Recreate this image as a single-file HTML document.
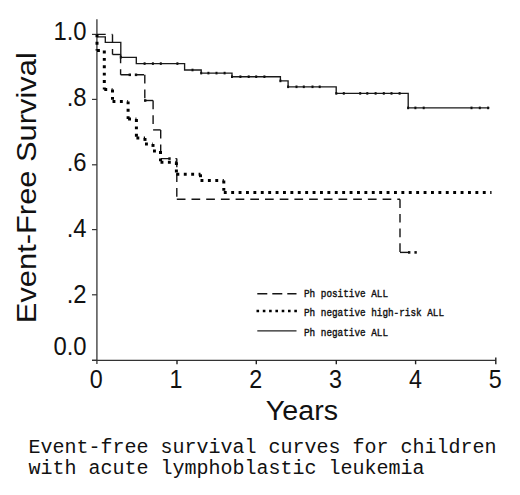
<!DOCTYPE html>
<html><head><meta charset="utf-8"><style>
html,body{margin:0;padding:0;background:#fff;width:520px;height:495px;overflow:hidden}
svg{position:absolute;left:0;top:0}
.ax{font-family:"Liberation Sans",sans-serif;fill:#111}
.serif{font-family:"Liberation Serif",serif;fill:#111}
.mono{font-family:"Liberation Mono",monospace;fill:#111}
</style></head><body>
<svg width="520" height="495" viewBox="0 0 520 495">
<line x1="96.9" y1="19.2" x2="96.9" y2="364" stroke="#505050" stroke-width="1.5"/>
<line x1="92" y1="360.3" x2="495.8" y2="360.3" stroke="#333" stroke-width="1.3"/>
<line x1="92" y1="34.4" x2="96.9" y2="34.4" stroke="#333" stroke-width="1.2"/>
<line x1="92" y1="99.4" x2="96.9" y2="99.4" stroke="#333" stroke-width="1.2"/>
<line x1="92" y1="164.8" x2="96.9" y2="164.8" stroke="#333" stroke-width="1.2"/>
<line x1="92" y1="229.6" x2="96.9" y2="229.6" stroke="#333" stroke-width="1.2"/>
<line x1="92" y1="294.8" x2="96.9" y2="294.8" stroke="#333" stroke-width="1.2"/>
<line x1="92" y1="360.3" x2="96.9" y2="360.3" stroke="#333" stroke-width="1.2"/>
<line x1="177" y1="360" x2="177" y2="364.3" stroke="#222" stroke-width="1.4"/>
<line x1="256.3" y1="360" x2="256.3" y2="364.3" stroke="#222" stroke-width="1.4"/>
<line x1="336.3" y1="360" x2="336.3" y2="364.3" stroke="#222" stroke-width="1.4"/>
<line x1="415.6" y1="360" x2="415.6" y2="364.3" stroke="#222" stroke-width="1.4"/>
<line x1="495.8" y1="357.4" x2="495.8" y2="364.3" stroke="#222" stroke-width="1.4"/>
<polyline fill="none" stroke="#1a1a1a" stroke-width="1.35" points="97,36.9 105.3,36.9 105.3,42.4 120.8,42.4 120.8,57.3 136.3,57.3 136.3,63.6 184.6,63.6 184.6,70 201.2,70 201.2,73.1 232,73.1 232,76.7 280.4,76.7 280.4,80.9 288.1,80.9 288.1,86.8 336.2,86.8 336.2,93.4 408.2,93.4 408.2,107.9 489.4,107.9"/>
<rect x="143.6" y="62.3" width="2" height="2.6" fill="#111"/>
<rect x="151.9" y="62.3" width="2" height="2.6" fill="#111"/>
<rect x="159.8" y="62.3" width="2" height="2.6" fill="#111"/>
<rect x="176.4" y="62.3" width="2" height="2.6" fill="#111"/>
<rect x="191.5" y="68.7" width="2" height="2.6" fill="#111"/>
<rect x="207.4" y="71.8" width="2" height="2.6" fill="#111"/>
<rect x="215.5" y="71.8" width="2" height="2.6" fill="#111"/>
<rect x="223.6" y="71.8" width="2" height="2.6" fill="#111"/>
<rect x="239.4" y="75.4" width="2" height="2.6" fill="#111"/>
<rect x="247.7" y="75.4" width="2" height="2.6" fill="#111"/>
<rect x="255.2" y="75.4" width="2" height="2.6" fill="#111"/>
<rect x="263.4" y="75.4" width="2" height="2.6" fill="#111"/>
<rect x="295.5" y="85.5" width="2" height="2.6" fill="#111"/>
<rect x="302.8" y="85.5" width="2" height="2.6" fill="#111"/>
<rect x="311.5" y="85.5" width="2" height="2.6" fill="#111"/>
<rect x="318.7" y="85.5" width="2" height="2.6" fill="#111"/>
<rect x="342.8" y="92.1" width="2" height="2.6" fill="#111"/>
<rect x="359.2" y="92.1" width="2" height="2.6" fill="#111"/>
<rect x="366.3" y="92.1" width="2" height="2.6" fill="#111"/>
<rect x="374.6" y="92.1" width="2" height="2.6" fill="#111"/>
<rect x="382.8" y="92.1" width="2" height="2.6" fill="#111"/>
<rect x="390.5" y="92.1" width="2" height="2.6" fill="#111"/>
<rect x="398.6" y="92.1" width="2" height="2.6" fill="#111"/>
<rect x="407.1" y="106.6" width="2" height="2.6" fill="#111"/>
<rect x="414.4" y="106.6" width="2" height="2.6" fill="#111"/>
<rect x="422.7" y="106.6" width="2" height="2.6" fill="#111"/>
<rect x="470.5" y="106.6" width="2" height="2.6" fill="#111"/>
<rect x="478.8" y="106.6" width="2" height="2.6" fill="#111"/>
<rect x="487.1" y="106.6" width="2" height="2.6" fill="#111"/>
<rect x="119.8" y="56" width="2" height="2.6" fill="#111"/>
<rect x="200.2" y="71.8" width="2" height="2.6" fill="#111"/>
<rect x="231" y="75.4" width="2" height="2.6" fill="#111"/>
<rect x="279.4" y="79.6" width="2" height="2.6" fill="#111"/>
<rect x="287.1" y="85.5" width="2" height="2.6" fill="#111"/>
<rect x="335.3" y="92.1" width="2" height="2.6" fill="#111"/>
<line x1="97" y1="34.4" x2="112.5" y2="34.4" stroke="#151515" stroke-width="1.4" stroke-dasharray="8.7 6"/>
<line x1="112.5" y1="34.4" x2="112.5" y2="54.5" stroke="#151515" stroke-width="1.4" stroke-dasharray="8.7 6"/>
<line x1="112.5" y1="54.5" x2="120.6" y2="54.5" stroke="#151515" stroke-width="1.4" stroke-dasharray="8.7 6"/>
<line x1="120.6" y1="54.5" x2="120.6" y2="74.8" stroke="#151515" stroke-width="1.4" stroke-dasharray="8.7 6"/>
<line x1="120.6" y1="74.8" x2="144.8" y2="74.8" stroke="#151515" stroke-width="1.4" stroke-dasharray="8.7 6"/>
<line x1="144.8" y1="74.8" x2="144.8" y2="100.5" stroke="#151515" stroke-width="1.4" stroke-dasharray="8.7 6"/>
<line x1="144.8" y1="100.5" x2="153.1" y2="100.5" stroke="#151515" stroke-width="1.4" stroke-dasharray="8.7 6"/>
<line x1="153.1" y1="100.5" x2="153.1" y2="129.9" stroke="#151515" stroke-width="1.4" stroke-dasharray="8.7 6"/>
<line x1="153.1" y1="129.9" x2="160.7" y2="129.9" stroke="#151515" stroke-width="1.4" stroke-dasharray="8.7 6"/>
<line x1="160.7" y1="129.9" x2="160.7" y2="158.6" stroke="#151515" stroke-width="1.4" stroke-dasharray="8.7 6"/>
<line x1="160.7" y1="158.6" x2="176.8" y2="158.6" stroke="#151515" stroke-width="1.4" stroke-dasharray="8.7 6"/>
<line x1="176.8" y1="158.6" x2="176.8" y2="199.2" stroke="#151515" stroke-width="1.4" stroke-dasharray="8.7 6"/>
<line x1="176.8" y1="199.2" x2="400" y2="199.2" stroke="#151515" stroke-width="1.4" stroke-dasharray="8.7 6"/>
<line x1="400" y1="199.2" x2="400" y2="252.4" stroke="#151515" stroke-width="1.4" stroke-dasharray="8.7 6"/>
<line x1="400" y1="252.4" x2="409.2" y2="252.4" stroke="#151515" stroke-width="1.4" stroke-dasharray="8.7 6"/>
<rect x="128.6" y="73.5" width="2.4" height="2.6" fill="#111"/>
<rect x="134.8" y="73.5" width="2.4" height="2.6" fill="#111"/>
<rect x="144" y="99.2" width="2.4" height="2.6" fill="#111"/>
<rect x="168.3" y="157.3" width="2.4" height="2.6" fill="#111"/>
<rect x="408" y="251.1" width="2.4" height="2.6" fill="#111"/>
<rect x="414.4" y="251.1" width="2.4" height="2.6" fill="#111"/>
<line x1="97" y1="34.4" x2="97" y2="50.5" stroke="#000" stroke-width="3" stroke-dasharray="2.9 4.5"/>
<line x1="97" y1="50.5" x2="104.3" y2="50.5" stroke="#000" stroke-width="3" stroke-dasharray="2.9 4.5"/>
<line x1="104.3" y1="50.5" x2="104.3" y2="89.5" stroke="#000" stroke-width="3" stroke-dasharray="2.9 4.5"/>
<line x1="104.3" y1="89.5" x2="112.5" y2="89.5" stroke="#000" stroke-width="3" stroke-dasharray="2.9 4.5"/>
<line x1="112.5" y1="89.5" x2="112.5" y2="101.4" stroke="#000" stroke-width="3" stroke-dasharray="2.9 4.5"/>
<line x1="112.5" y1="101.4" x2="128.1" y2="101.4" stroke="#000" stroke-width="3" stroke-dasharray="2.9 4.5"/>
<line x1="128.1" y1="101.4" x2="128.1" y2="119" stroke="#000" stroke-width="3" stroke-dasharray="2.9 4.5"/>
<line x1="128.1" y1="119" x2="136.4" y2="119" stroke="#000" stroke-width="3" stroke-dasharray="2.9 4.5"/>
<line x1="136.4" y1="119" x2="136.4" y2="138" stroke="#000" stroke-width="3" stroke-dasharray="2.9 4.5"/>
<line x1="136.4" y1="138" x2="145" y2="138" stroke="#000" stroke-width="3" stroke-dasharray="2.9 4.5"/>
<line x1="145" y1="138" x2="145" y2="144" stroke="#000" stroke-width="3" stroke-dasharray="2.9 4.5"/>
<line x1="145" y1="144" x2="153" y2="144" stroke="#000" stroke-width="3" stroke-dasharray="2.9 4.5"/>
<line x1="153" y1="144" x2="153" y2="151" stroke="#000" stroke-width="3" stroke-dasharray="2.9 4.5"/>
<line x1="153" y1="151" x2="160.5" y2="151" stroke="#000" stroke-width="3" stroke-dasharray="2.9 4.5"/>
<line x1="160.5" y1="151" x2="160.5" y2="162.2" stroke="#000" stroke-width="3" stroke-dasharray="2.9 4.5"/>
<line x1="160.5" y1="162.2" x2="176.4" y2="162.2" stroke="#000" stroke-width="3" stroke-dasharray="2.9 4.5"/>
<line x1="176.4" y1="162.2" x2="176.4" y2="174.3" stroke="#000" stroke-width="3" stroke-dasharray="2.9 4.5"/>
<line x1="176.4" y1="174.3" x2="200.5" y2="174.3" stroke="#000" stroke-width="3" stroke-dasharray="2.9 4.5"/>
<line x1="200.5" y1="174.3" x2="200.5" y2="180.5" stroke="#000" stroke-width="3" stroke-dasharray="2.9 4.5"/>
<line x1="200.5" y1="180.5" x2="223.8" y2="180.5" stroke="#000" stroke-width="3" stroke-dasharray="2.9 4.5"/>
<line x1="223.8" y1="180.5" x2="223.8" y2="192.6" stroke="#000" stroke-width="3" stroke-dasharray="2.9 4.5"/>
<line x1="223.8" y1="192.6" x2="491.5" y2="192.6" stroke="#000" stroke-width="3" stroke-dasharray="2.9 4.5"/>
<line x1="257.3" y1="293.7" x2="296.5" y2="293.7" stroke="#151515" stroke-width="1.4" stroke-dasharray="10 5"/>
<line x1="256.5" y1="311" x2="297" y2="311" stroke="#000" stroke-width="2.6" stroke-dasharray="2.6 3.7"/>
<line x1="257.3" y1="330.8" x2="296.5" y2="330.8" stroke="#222" stroke-width="1.3"/>
<g class="ax" font-size="26.5" text-anchor="end">
<text transform="translate(86.6,40.1) scale(0.9,1)">1.0</text>
<text transform="translate(86.6,105.6) scale(0.9,1)">.8</text>
<text transform="translate(86.6,170.6) scale(0.9,1)">.6</text>
<text transform="translate(86.6,237.3) scale(0.9,1)">.4</text>
<text transform="translate(86.6,302.5) scale(0.9,1)">.2</text>
<text transform="translate(86.6,355.1) scale(0.9,1)">0.0</text>
</g>
<g class="ax" font-size="26.5" text-anchor="middle">
<text transform="translate(96.2,388.3) scale(0.88,1)">0</text>
<text transform="translate(176,388.3) scale(0.88,1)">1</text>
<text transform="translate(255.8,388.3) scale(0.88,1)">2</text>
<text transform="translate(335.6,388.3) scale(0.88,1)">3</text>
<text transform="translate(415.4,388.3) scale(0.88,1)">4</text>
<text transform="translate(495.2,388.3) scale(0.88,1)">5</text>
</g>
<text class="ax" font-size="27" transform="translate(301.9,420) scale(1.06,1)" text-anchor="middle">Years</text>
<text class="ax" font-size="27" transform="translate(35.9,187.7) rotate(-90) scale(1.143,1)" text-anchor="middle">Event-Free Survival</text>
<g class="mono" font-size="11" stroke="#111" stroke-width="0.4">
<text x="304" y="296.8" textLength="84" lengthAdjust="spacingAndGlyphs">Ph positive ALL</text>
<text x="304" y="315.6" textLength="140" lengthAdjust="spacingAndGlyphs">Ph negative high-risk ALL</text>
<text x="304" y="335.9" textLength="84" lengthAdjust="spacingAndGlyphs">Ph negative ALL</text>
</g>
<g class="mono" font-size="20">
<text x="28.5" y="452.7">Event-free survival curves for children</text>
<text x="28.5" y="474.4">with acute lymphoblastic leukemia</text>
</g>
</svg>
</body></html>
